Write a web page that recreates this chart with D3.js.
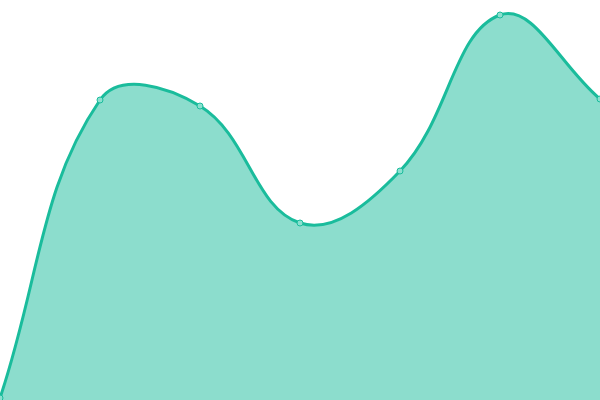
<!DOCTYPE html>
<html>
<head>
<meta charset="utf-8">
<script src="https://cdn.jsdelivr.net/npm/d3@7"></script>
<style>
  body { margin: 0; background: #fff; }
  svg { display: block; }
</style>
</head>
<body>
<div id="chart"></div>
<script>
// values
const xs = [0, 1, 2, 3, 4, 5, 6];
const values = [2, 300, 294, 177, 229, 385, 301];

const width = 600, height = 400;
const tension = 0.4;

// spline with distance-weighted control points (tension 0.4)
function WeightedSpline(context) { this._context = context; }
WeightedSpline.prototype = {
    areaStart() { this._line = 0; },
    areaEnd() { this._line = NaN; },
    lineStart() { this._pts = []; },
    point(x, y) { this._pts.push([+x, +y]); },
    lineEnd() {
        const p = this._pts, n = p.length, ctx = this._context;
        if (n) {
            const ctrl = p.map((cur, i) => {
                const prev = p[Math.max(0, i - 1)], next = p[Math.min(n - 1, i + 1)];
                const d01 = Math.hypot(cur[0] - prev[0], cur[1] - prev[1]);
                const d12 = Math.hypot(next[0] - cur[0], next[1] - cur[1]);
                let s01 = d01 / (d01 + d12), s12 = d12 / (d01 + d12);
                if (isNaN(s01)) s01 = 0;
                if (isNaN(s12)) s12 = 0;
                const fa = tension * s01, fb = tension * s12;
                return {
                    prev: [cur[0] - fa * (next[0] - prev[0]), cur[1] - fa * (next[1] - prev[1])],
                    next: [cur[0] + fb * (next[0] - prev[0]), cur[1] + fb * (next[1] - prev[1])]
                };
            });
            this._line ? ctx.lineTo(p[0][0], p[0][1]) : ctx.moveTo(p[0][0], p[0][1]);
            for (let i = 1; i < n; i++) {
                const a = ctrl[i - 1].next, b = ctrl[i].prev;
                ctx.bezierCurveTo(a[0], a[1], b[0], b[1], p[i][0], p[i][1]);
            }
        }
        if (this._line || (this._line !== 0 && n === 1)) ctx.closePath();
        this._line = 1 - this._line;
    }
};
const curveWeighted = ctx => new WeightedSpline(ctx);

const svg = d3.select("#chart")
    .append("svg")
    .attr("width", width)
    .attr("height", height);

const x = d3.scaleLinear()
    .domain([0, 6])
    .range([0, width]);

const y = d3.scaleLinear()
    .domain([0, 400])
    .range([height, 0]);

const data = xs.map((d, i) => ({ x: d, v: values[i] }));

const area = d3.area()
    .x(d => x(d.x))
    .y0(height)
    .y1(d => y(d.v))
    .curve(curveWeighted);

const line = d3.line()
    .x(d => x(d.x))
    .y(d => y(d.v))
    .curve(curveWeighted);

svg.append("path")
    .datum(data)
    .attr("d", area)
    .attr("fill", "#1abc9c")
    .attr("fill-opacity", 0.5);

svg.append("path")
    .datum(data)
    .attr("d", line)
    .attr("fill", "none")
    .attr("stroke", "#1abc9c")
    .attr("stroke-width", 3);

svg.selectAll(".dot")
    .data(data)
    .enter()
    .append("circle")
    .attr("class", "dot")
    .attr("cx", d => x(d.x))
    .attr("cy", d => y(d.v))
    .attr("r", 3)
    .attr("fill", "#8ae0cf")
    .attr("stroke", "#1abc9c")
    .attr("stroke-width", 1);
</script>
</body>
</html>
